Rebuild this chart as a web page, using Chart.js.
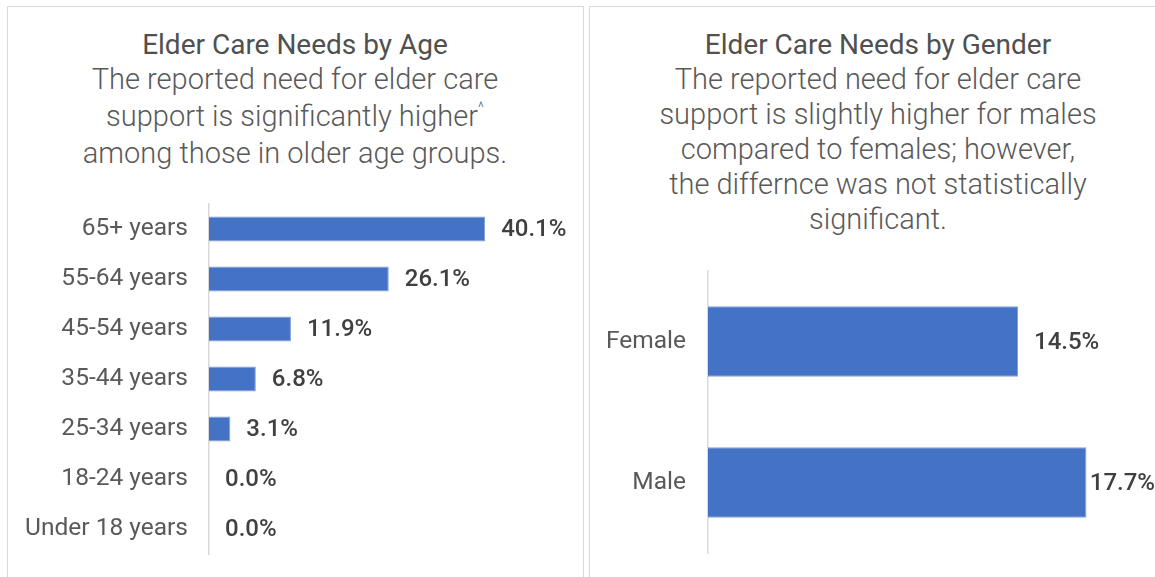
<!DOCTYPE html>
<html><head><meta charset="utf-8">
<script src="https://cdn.jsdelivr.net/npm/chart.js@4/dist/chart.umd.min.js"></script>
<style>
html,body{margin:0;padding:0;background:#fff;overflow:hidden;width:1155px;height:577px;position:relative}
.panel{position:absolute;top:6px;height:620px;border:1.5px solid #d9d9d9;box-sizing:border-box}
#p1{left:7px;width:577px}
#p2{left:589px;width:600px}
.txt{position:absolute;text-align:center;font-family:Roboto,"Open Sans",sans-serif;color:#595959;white-space:nowrap}
.title{font-size:28px;line-height:30px;font-weight:400;color:#505050}
.sub{font-size:29px;font-weight:300}
.wrap{position:absolute}
.caret{font-size:14px;line-height:0;position:relative;top:-14px}
</style>
</head><body>
<div class="panel" id="p1"></div>
<div class="panel" id="p2"></div>

<div class="txt title" style="left:8px;width:574px;top:30px">Elder Care Needs by Age</div>
<div class="txt sub" style="left:8px;width:574px;top:61px;line-height:37px">The reported need for elder care<br>support is significantly higher<span class="caret">^</span><br>among those in older age groups.</div>

<div class="txt title" style="left:590px;width:576px;top:30px">Elder Care Needs by Gender</div>
<div class="txt sub" style="left:590px;width:576px;top:62px;line-height:35px">The reported need for elder care<br>support is slightly higher for males<br>compared to females; however,<br>the differnce was not statistically<br>significant.</div>

<div class="wrap" style="left:9px;top:190px;width:572px;height:375px"><canvas id="c1"></canvas></div>
<div class="wrap" style="left:591px;top:255px;width:575px;height:310px"><canvas id="c2"></canvas></div>

<script>
const ageCategories = ['65+ years','55-64 years','45-54 years','35-44 years','25-34 years','18-24 years','Under 18 years'];
const ageValues = [40.1, 26.1, 11.9, 6.8, 3.1, 0.0, 0.0];
const genderCategories = ['Female','Male'];
const genderValues = [14.5, 17.7];

const BAR = '#4472c4';
const BAR_EDGE = '#7f9fd8';

const valueLabels = {
  id: 'valueLabels',
  afterDatasetsDraw(chart) {
    const ctx = chart.ctx;
    const meta = chart.getDatasetMeta(0);
    const vals = chart.data.datasets[0].data;
    ctx.save();
    ctx.font = '500 24px Roboto';
    ctx.fillStyle = '#404040';
    ctx.textBaseline = 'middle';
    ctx.textAlign = 'left';
    meta.data.forEach((bar, i) => {
      const txt = vals[i].toFixed(1) + '%';
      const w = ctx.measureText(txt).width;
      let x = bar.x + 16;
      const limit = chart.chartArea.right - 2;
      if (x + w > limit) x = Math.max(bar.x + 3, limit - w);
      ctx.fillText(txt, x, bar.y + 1);
    });
    ctx.restore();
  }
};

function makeChart(id, cats, vals, axisWidth, xMax, pad, tickPad) {
  return new Chart(document.getElementById(id), {
    type: 'bar',
    data: {
      labels: cats,
      datasets: [{
        data: vals,
        backgroundColor: BAR,
        borderColor: BAR_EDGE,
        borderWidth: 1,
        barPercentage: 0.5,
        categoryPercentage: 1.0
      }]
    },
    options: {
      indexAxis: 'y',
      responsive: true,
      maintainAspectRatio: false,
      animation: false,
      layout: { padding: pad },
      plugins: { legend: { display: false }, tooltip: { enabled: false } },
      scales: {
        x: { display: false, min: 0, max: xMax },
        y: {
          afterFit(scale) { scale.width = axisWidth; scale.paddingTop = 0; scale.paddingBottom = 0; },
          grid: { display: false, drawTicks: false, tickLength: 0 },
          border: { display: true, color: '#d9d9d9', width: 1.5 },
          ticks: {
            color: '#595959',
            padding: tickPad,
            font: { family: 'Roboto', size: 24.5 }
          }
        }
      }
    },
    plugins: [valueLabels]
  });
}

makeChart('c1', ageCategories, ageValues, 200, 53, { top: 14, bottom: 11, left: 0, right: 7 }, 21);
makeChart('c2', genderCategories, genderValues, 117, 21, { top: 16, bottom: 12, left: 0, right: 9 }, 22);
</script>
</body></html>
